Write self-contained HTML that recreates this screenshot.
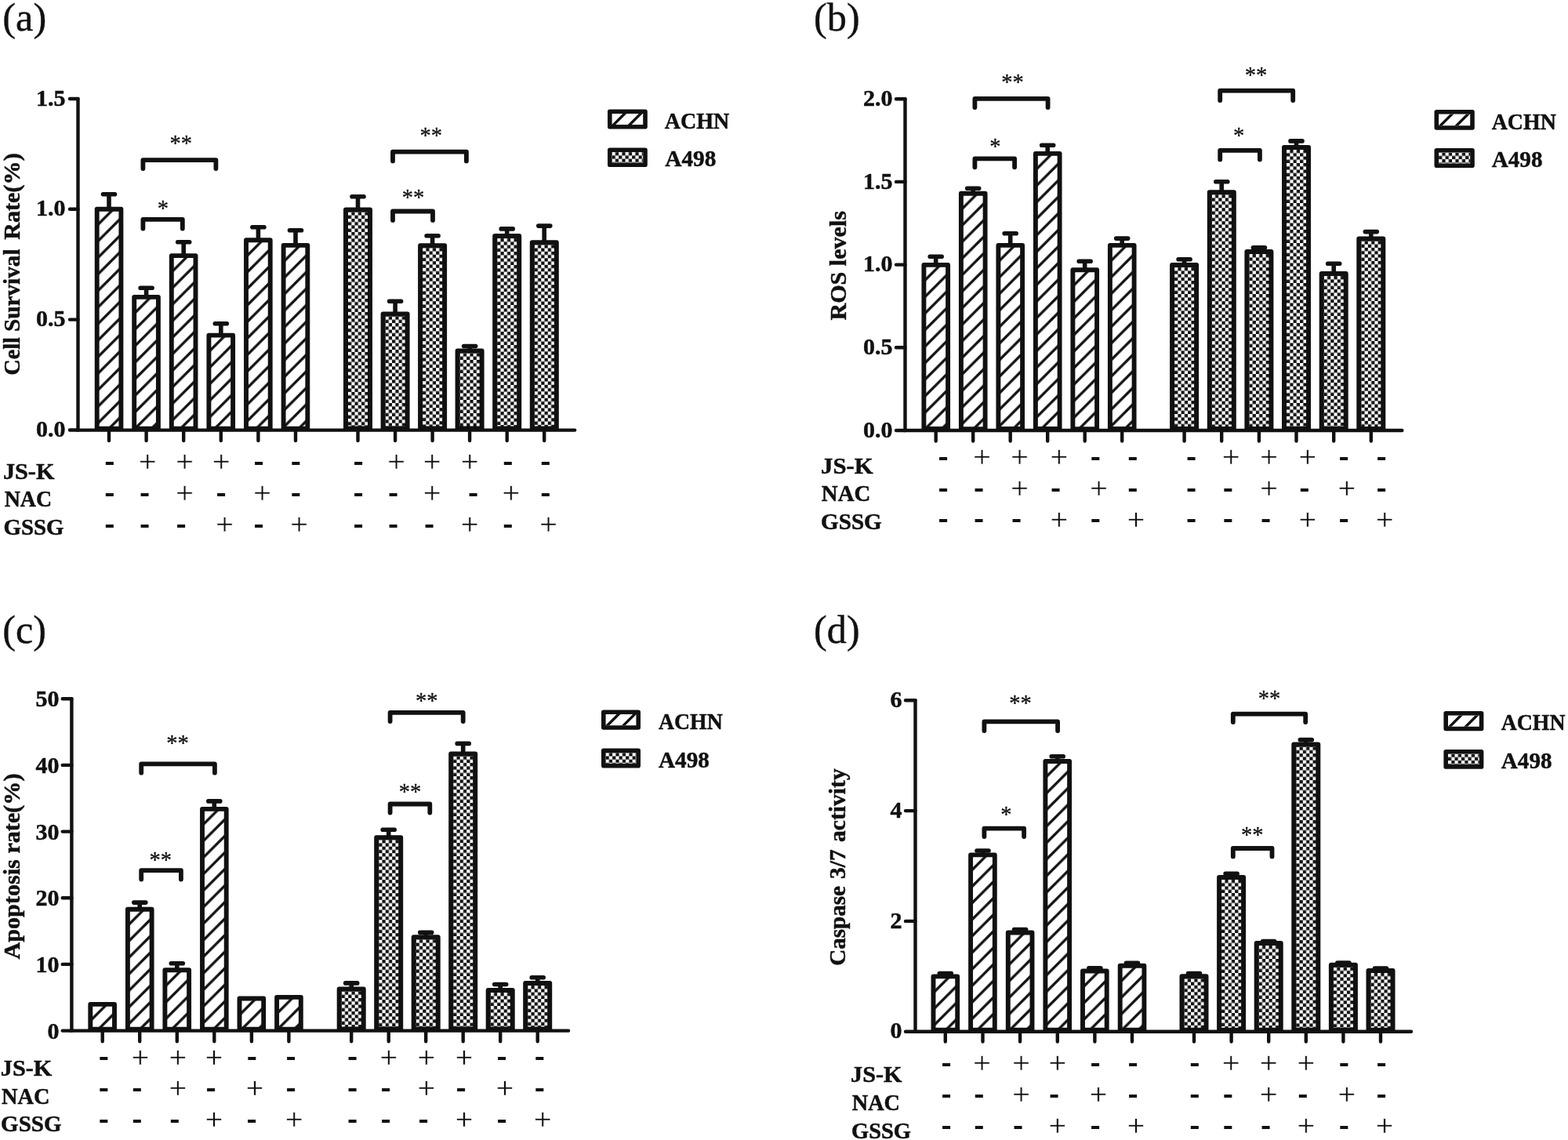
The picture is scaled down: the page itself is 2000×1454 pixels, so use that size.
<!DOCTYPE html>
<html><head><meta charset="utf-8"><title>Figure</title>
<style>
html,body{margin:0;padding:0;background:#fff;}
body{width:2000px;height:1454px;overflow:hidden;}
svg{display:block;}
text{fill:#111111;}
</style></head>
<body>
<svg width="2000" height="1454" viewBox="0 0 2000 1454">
<defs>
<pattern id="hatch" patternUnits="userSpaceOnUse" width="21.0" height="21.0">
<rect width="21.0" height="21.0" fill="#fff"/>
<path d="M-2 23.0L23.0 -2M-12.5 12.5L12.5 -12.5M8.5 33.5L33.5 8.5" stroke="#111111" stroke-width="3.3" fill="none" transform="translate(0 0)"/>
</pattern>
<pattern id="chk" patternUnits="userSpaceOnUse" width="8.5" height="8.5">
<rect width="8.5" height="8.5" fill="#fff"/>
<rect width="4.25" height="4.25" fill="#111111"/>
<rect x="4.25" y="4.25" width="4.25" height="4.25" fill="#111111"/>
</pattern>
<pattern id="hatchL" patternUnits="userSpaceOnUse" width="21.0" height="21.0">
<rect width="21.0" height="21.0" fill="#fff"/>
<path d="M-2 23.0L23.0 -2" stroke="#111111" stroke-width="3.9" fill="none"/>
</pattern>
<pattern id="chkL" patternUnits="userSpaceOnUse" width="8.5" height="8.5">
<rect width="8.5" height="8.5" fill="#fff"/>
<rect width="4.25" height="4.25" fill="#111111"/>
<rect x="4.25" y="4.25" width="4.25" height="4.25" fill="#111111"/>
</pattern>
<pattern id="p1" patternUnits="userSpaceOnUse" x="126.60" y="269.70" width="21.1" height="21.1"><rect width="21.1" height="21.1" fill="#fff"/><path d="M-9.00 24.10L24.10 -9.00M12.10 24.10L24.10 12.10" stroke="#111111" stroke-width="3.3" fill="none"/></pattern>
<pattern id="p2" patternUnits="userSpaceOnUse" x="174.20" y="381.90" width="21.1" height="21.1"><rect width="21.1" height="21.1" fill="#fff"/><path d="M-9.00 24.10L24.10 -9.00M12.10 24.10L24.10 12.10" stroke="#111111" stroke-width="3.3" fill="none"/></pattern>
<pattern id="p3" patternUnits="userSpaceOnUse" x="221.80" y="329.10" width="21.1" height="21.1"><rect width="21.1" height="21.1" fill="#fff"/><path d="M-9.00 24.10L24.10 -9.00M12.10 24.10L24.10 12.10" stroke="#111111" stroke-width="3.3" fill="none"/></pattern>
<pattern id="p4" patternUnits="userSpaceOnUse" x="269.40" y="430.60" width="21.1" height="21.1"><rect width="21.1" height="21.1" fill="#fff"/><path d="M-9.00 24.10L24.10 -9.00M12.10 24.10L24.10 12.10" stroke="#111111" stroke-width="3.3" fill="none"/></pattern>
<pattern id="p5" patternUnits="userSpaceOnUse" x="317.00" y="309.30" width="21.1" height="21.1"><rect width="21.1" height="21.1" fill="#fff"/><path d="M-9.00 24.10L24.10 -9.00M12.10 24.10L24.10 12.10" stroke="#111111" stroke-width="3.3" fill="none"/></pattern>
<pattern id="p6" patternUnits="userSpaceOnUse" x="364.60" y="315.90" width="21.1" height="21.1"><rect width="21.1" height="21.1" fill="#fff"/><path d="M-9.00 24.10L24.10 -9.00M12.10 24.10L24.10 12.10" stroke="#111111" stroke-width="3.3" fill="none"/></pattern>
<pattern id="p7" patternUnits="userSpaceOnUse" x="444.00" y="270.40" width="8.5" height="8.5"><rect width="8.5" height="8.5" fill="#fff"/><rect x="4.25" width="4.25" height="4.25" fill="#111111"/><rect y="4.25" width="4.25" height="4.25" fill="#111111"/></pattern>
<pattern id="p8" patternUnits="userSpaceOnUse" x="491.55" y="403.60" width="8.5" height="8.5"><rect width="8.5" height="8.5" fill="#fff"/><rect x="4.25" width="4.25" height="4.25" fill="#111111"/><rect y="4.25" width="4.25" height="4.25" fill="#111111"/></pattern>
<pattern id="p9" patternUnits="userSpaceOnUse" x="539.10" y="316.20" width="8.5" height="8.5"><rect width="8.5" height="8.5" fill="#fff"/><rect x="4.25" width="4.25" height="4.25" fill="#111111"/><rect y="4.25" width="4.25" height="4.25" fill="#111111"/></pattern>
<pattern id="p10" patternUnits="userSpaceOnUse" x="586.65" y="450.50" width="8.5" height="8.5"><rect width="8.5" height="8.5" fill="#fff"/><rect x="4.25" width="4.25" height="4.25" fill="#111111"/><rect y="4.25" width="4.25" height="4.25" fill="#111111"/></pattern>
<pattern id="p11" patternUnits="userSpaceOnUse" x="634.20" y="304.10" width="8.5" height="8.5"><rect width="8.5" height="8.5" fill="#fff"/><rect x="4.25" width="4.25" height="4.25" fill="#111111"/><rect y="4.25" width="4.25" height="4.25" fill="#111111"/></pattern>
<pattern id="p12" patternUnits="userSpaceOnUse" x="681.75" y="312.30" width="8.5" height="8.5"><rect width="8.5" height="8.5" fill="#fff"/><rect x="4.25" width="4.25" height="4.25" fill="#111111"/><rect y="4.25" width="4.25" height="4.25" fill="#111111"/></pattern>
<clipPath id="k13"><rect x="780.6" y="145.1" width="39.6" height="13.8"/></clipPath>
<pattern id="c14" patternUnits="userSpaceOnUse" x="780.60" y="194.10" width="8.5" height="8.5"><rect width="8.5" height="8.5" fill="#fff"/><rect x="4.25" width="4.25" height="4.25" fill="#111111"/><rect y="4.25" width="4.25" height="4.25" fill="#111111"/></pattern>
<pattern id="p15" patternUnits="userSpaceOnUse" x="1181.30" y="340.90" width="21.1" height="21.1"><rect width="21.1" height="21.1" fill="#fff"/><path d="M-9.00 24.10L24.10 -9.00M12.10 24.10L24.10 12.10" stroke="#111111" stroke-width="3.3" fill="none"/></pattern>
<pattern id="p16" patternUnits="userSpaceOnUse" x="1228.80" y="249.65" width="21.1" height="21.1"><rect width="21.1" height="21.1" fill="#fff"/><path d="M-9.00 24.10L24.10 -9.00M12.10 24.10L24.10 12.10" stroke="#111111" stroke-width="3.3" fill="none"/></pattern>
<pattern id="p17" patternUnits="userSpaceOnUse" x="1276.30" y="315.90" width="21.1" height="21.1"><rect width="21.1" height="21.1" fill="#fff"/><path d="M-9.00 24.10L24.10 -9.00M12.10 24.10L24.10 12.10" stroke="#111111" stroke-width="3.3" fill="none"/></pattern>
<pattern id="p18" patternUnits="userSpaceOnUse" x="1323.80" y="198.90" width="21.1" height="21.1"><rect width="21.1" height="21.1" fill="#fff"/><path d="M-9.00 24.10L24.10 -9.00M12.10 24.10L24.10 12.10" stroke="#111111" stroke-width="3.3" fill="none"/></pattern>
<pattern id="p19" patternUnits="userSpaceOnUse" x="1371.30" y="347.15" width="21.1" height="21.1"><rect width="21.1" height="21.1" fill="#fff"/><path d="M-9.00 24.10L24.10 -9.00M12.10 24.10L24.10 12.10" stroke="#111111" stroke-width="3.3" fill="none"/></pattern>
<pattern id="p20" patternUnits="userSpaceOnUse" x="1418.80" y="315.90" width="21.1" height="21.1"><rect width="21.1" height="21.1" fill="#fff"/><path d="M-9.00 24.10L24.10 -9.00M12.10 24.10L24.10 12.10" stroke="#111111" stroke-width="3.3" fill="none"/></pattern>
<pattern id="p21" patternUnits="userSpaceOnUse" x="1498.10" y="341.10" width="8.5" height="8.5"><rect width="8.5" height="8.5" fill="#fff"/><rect x="4.25" width="4.25" height="4.25" fill="#111111"/><rect y="4.25" width="4.25" height="4.25" fill="#111111"/></pattern>
<pattern id="p22" patternUnits="userSpaceOnUse" x="1545.75" y="248.20" width="8.5" height="8.5"><rect width="8.5" height="8.5" fill="#fff"/><rect x="4.25" width="4.25" height="4.25" fill="#111111"/><rect y="4.25" width="4.25" height="4.25" fill="#111111"/></pattern>
<pattern id="p23" patternUnits="userSpaceOnUse" x="1593.40" y="324.10" width="8.5" height="8.5"><rect width="8.5" height="8.5" fill="#fff"/><rect x="4.25" width="4.25" height="4.25" fill="#111111"/><rect y="4.25" width="4.25" height="4.25" fill="#111111"/></pattern>
<pattern id="p24" patternUnits="userSpaceOnUse" x="1641.05" y="191.00" width="8.5" height="8.5"><rect width="8.5" height="8.5" fill="#fff"/><rect x="4.25" width="4.25" height="4.25" fill="#111111"/><rect y="4.25" width="4.25" height="4.25" fill="#111111"/></pattern>
<pattern id="p25" patternUnits="userSpaceOnUse" x="1688.70" y="352.10" width="8.5" height="8.5"><rect width="8.5" height="8.5" fill="#fff"/><rect x="4.25" width="4.25" height="4.25" fill="#111111"/><rect y="4.25" width="4.25" height="4.25" fill="#111111"/></pattern>
<pattern id="p26" patternUnits="userSpaceOnUse" x="1736.35" y="307.40" width="8.5" height="8.5"><rect width="8.5" height="8.5" fill="#fff"/><rect x="4.25" width="4.25" height="4.25" fill="#111111"/><rect y="4.25" width="4.25" height="4.25" fill="#111111"/></pattern>
<clipPath id="k27"><rect x="1835.1" y="145.6" width="40.1" height="14.6"/></clipPath>
<pattern id="c28" patternUnits="userSpaceOnUse" x="1835.10" y="194.60" width="8.5" height="8.5"><rect width="8.5" height="8.5" fill="#fff"/><rect x="4.25" width="4.25" height="4.25" fill="#111111"/><rect y="4.25" width="4.25" height="4.25" fill="#111111"/></pattern>
<pattern id="p29" patternUnits="userSpaceOnUse" x="118.30" y="1283.80" width="21.1" height="21.1"><rect width="21.1" height="21.1" fill="#fff"/><path d="M-9.00 24.10L24.10 -9.00M12.10 24.10L24.10 12.10" stroke="#111111" stroke-width="3.3" fill="none"/></pattern>
<pattern id="p30" patternUnits="userSpaceOnUse" x="165.85" y="1162.60" width="21.1" height="21.1"><rect width="21.1" height="21.1" fill="#fff"/><path d="M-9.00 24.10L24.10 -9.00M12.10 24.10L24.10 12.10" stroke="#111111" stroke-width="3.3" fill="none"/></pattern>
<pattern id="p31" patternUnits="userSpaceOnUse" x="213.40" y="1240.20" width="21.1" height="21.1"><rect width="21.1" height="21.1" fill="#fff"/><path d="M-9.00 24.10L24.10 -9.00M12.10 24.10L24.10 12.10" stroke="#111111" stroke-width="3.3" fill="none"/></pattern>
<pattern id="p32" patternUnits="userSpaceOnUse" x="260.95" y="1034.80" width="21.1" height="21.1"><rect width="21.1" height="21.1" fill="#fff"/><path d="M-9.00 24.10L24.10 -9.00M12.10 24.10L24.10 12.10" stroke="#111111" stroke-width="3.3" fill="none"/></pattern>
<pattern id="p33" patternUnits="userSpaceOnUse" x="308.50" y="1276.40" width="21.1" height="21.1"><rect width="21.1" height="21.1" fill="#fff"/><path d="M-9.00 24.10L24.10 -9.00M12.10 24.10L24.10 12.10" stroke="#111111" stroke-width="3.3" fill="none"/></pattern>
<pattern id="p34" patternUnits="userSpaceOnUse" x="356.05" y="1274.80" width="21.1" height="21.1"><rect width="21.1" height="21.1" fill="#fff"/><path d="M-9.00 24.10L24.10 -9.00M12.10 24.10L24.10 12.10" stroke="#111111" stroke-width="3.3" fill="none"/></pattern>
<pattern id="p35" patternUnits="userSpaceOnUse" x="435.70" y="1264.50" width="8.5" height="8.5"><rect width="8.5" height="8.5" fill="#fff"/><rect x="4.25" width="4.25" height="4.25" fill="#111111"/><rect y="4.25" width="4.25" height="4.25" fill="#111111"/></pattern>
<pattern id="p36" patternUnits="userSpaceOnUse" x="483.20" y="1071.20" width="8.5" height="8.5"><rect width="8.5" height="8.5" fill="#fff"/><rect x="4.25" width="4.25" height="4.25" fill="#111111"/><rect y="4.25" width="4.25" height="4.25" fill="#111111"/></pattern>
<pattern id="p37" patternUnits="userSpaceOnUse" x="530.70" y="1198.30" width="8.5" height="8.5"><rect width="8.5" height="8.5" fill="#fff"/><rect x="4.25" width="4.25" height="4.25" fill="#111111"/><rect y="4.25" width="4.25" height="4.25" fill="#111111"/></pattern>
<pattern id="p38" patternUnits="userSpaceOnUse" x="578.20" y="964.60" width="8.5" height="8.5"><rect width="8.5" height="8.5" fill="#fff"/><rect x="4.25" width="4.25" height="4.25" fill="#111111"/><rect y="4.25" width="4.25" height="4.25" fill="#111111"/></pattern>
<pattern id="p39" patternUnits="userSpaceOnUse" x="625.70" y="1266.10" width="8.5" height="8.5"><rect width="8.5" height="8.5" fill="#fff"/><rect x="4.25" width="4.25" height="4.25" fill="#111111"/><rect y="4.25" width="4.25" height="4.25" fill="#111111"/></pattern>
<pattern id="p40" patternUnits="userSpaceOnUse" x="673.20" y="1257.10" width="8.5" height="8.5"><rect width="8.5" height="8.5" fill="#fff"/><rect x="4.25" width="4.25" height="4.25" fill="#111111"/><rect y="4.25" width="4.25" height="4.25" fill="#111111"/></pattern>
<clipPath id="k41"><rect x="772.6" y="911.1" width="38.8" height="14.1"/></clipPath>
<pattern id="c42" patternUnits="userSpaceOnUse" x="772.60" y="960.20" width="8.5" height="8.5"><rect width="8.5" height="8.5" fill="#fff"/><rect x="4.25" width="4.25" height="4.25" fill="#111111"/><rect y="4.25" width="4.25" height="4.25" fill="#111111"/></pattern>
<pattern id="p43" patternUnits="userSpaceOnUse" x="1193.40" y="1248.30" width="21.1" height="21.1"><rect width="21.1" height="21.1" fill="#fff"/><path d="M-9.00 24.10L24.10 -9.00M12.10 24.10L24.10 12.10" stroke="#111111" stroke-width="3.3" fill="none"/></pattern>
<pattern id="p44" patternUnits="userSpaceOnUse" x="1241.05" y="1093.30" width="21.1" height="21.1"><rect width="21.1" height="21.1" fill="#fff"/><path d="M-9.00 24.10L24.10 -9.00M12.10 24.10L24.10 12.10" stroke="#111111" stroke-width="3.3" fill="none"/></pattern>
<pattern id="p45" patternUnits="userSpaceOnUse" x="1288.70" y="1192.50" width="21.1" height="21.1"><rect width="21.1" height="21.1" fill="#fff"/><path d="M-9.00 24.10L24.10 -9.00M12.10 24.10L24.10 12.10" stroke="#111111" stroke-width="3.3" fill="none"/></pattern>
<pattern id="p46" patternUnits="userSpaceOnUse" x="1336.35" y="973.90" width="21.1" height="21.1"><rect width="21.1" height="21.1" fill="#fff"/><path d="M-9.00 24.10L24.10 -9.00M12.10 24.10L24.10 12.10" stroke="#111111" stroke-width="3.3" fill="none"/></pattern>
<pattern id="p47" patternUnits="userSpaceOnUse" x="1384.00" y="1241.50" width="21.1" height="21.1"><rect width="21.1" height="21.1" fill="#fff"/><path d="M-9.00 24.10L24.10 -9.00M12.10 24.10L24.10 12.10" stroke="#111111" stroke-width="3.3" fill="none"/></pattern>
<pattern id="p48" patternUnits="userSpaceOnUse" x="1431.65" y="1234.70" width="21.1" height="21.1"><rect width="21.1" height="21.1" fill="#fff"/><path d="M-9.00 24.10L24.10 -9.00M12.10 24.10L24.10 12.10" stroke="#111111" stroke-width="3.3" fill="none"/></pattern>
<pattern id="p49" patternUnits="userSpaceOnUse" x="1510.50" y="1248.30" width="8.5" height="8.5"><rect width="8.5" height="8.5" fill="#fff"/><rect x="4.25" width="4.25" height="4.25" fill="#111111"/><rect y="4.25" width="4.25" height="4.25" fill="#111111"/></pattern>
<pattern id="p50" patternUnits="userSpaceOnUse" x="1558.10" y="1122.00" width="8.5" height="8.5"><rect width="8.5" height="8.5" fill="#fff"/><rect x="4.25" width="4.25" height="4.25" fill="#111111"/><rect y="4.25" width="4.25" height="4.25" fill="#111111"/></pattern>
<pattern id="p51" patternUnits="userSpaceOnUse" x="1605.70" y="1206.00" width="8.5" height="8.5"><rect width="8.5" height="8.5" fill="#fff"/><rect x="4.25" width="4.25" height="4.25" fill="#111111"/><rect y="4.25" width="4.25" height="4.25" fill="#111111"/></pattern>
<pattern id="p52" patternUnits="userSpaceOnUse" x="1653.30" y="952.60" width="8.5" height="8.5"><rect width="8.5" height="8.5" fill="#fff"/><rect x="4.25" width="4.25" height="4.25" fill="#111111"/><rect y="4.25" width="4.25" height="4.25" fill="#111111"/></pattern>
<pattern id="p53" patternUnits="userSpaceOnUse" x="1700.90" y="1233.80" width="8.5" height="8.5"><rect width="8.5" height="8.5" fill="#fff"/><rect x="4.25" width="4.25" height="4.25" fill="#111111"/><rect y="4.25" width="4.25" height="4.25" fill="#111111"/></pattern>
<pattern id="p54" patternUnits="userSpaceOnUse" x="1748.50" y="1240.90" width="8.5" height="8.5"><rect width="8.5" height="8.5" fill="#fff"/><rect x="4.25" width="4.25" height="4.25" fill="#111111"/><rect y="4.25" width="4.25" height="4.25" fill="#111111"/></pattern>
<clipPath id="k55"><rect x="1847.0" y="912.6" width="39.8" height="14.1"/></clipPath>
<pattern id="c56" patternUnits="userSpaceOnUse" x="1847.00" y="961.50" width="8.5" height="8.5"><rect width="8.5" height="8.5" fill="#fff"/><rect x="4.25" width="4.25" height="4.25" fill="#111111"/><rect y="4.25" width="4.25" height="4.25" fill="#111111"/></pattern>
</defs>
<rect width="2000" height="1454" fill="#fff"/>
<path d="M139.0 266.8V247.7M131.5 247.7H146.5" stroke="#111111" stroke-width="5.6" stroke-linecap="round" fill="none"/>
<rect x="123.7" y="266.8" width="30.7" height="279.9" fill="url(#p1)" stroke="#111111" stroke-width="5.9" stroke-linejoin="round"/>
<path d="M186.6 378.9V367.3M179.1 367.3H194.1" stroke="#111111" stroke-width="5.6" stroke-linecap="round" fill="none"/>
<rect x="171.2" y="378.9" width="30.7" height="167.7" fill="url(#p2)" stroke="#111111" stroke-width="5.9" stroke-linejoin="round"/>
<path d="M234.2 326.1V308.7M226.7 308.7H241.7" stroke="#111111" stroke-width="5.6" stroke-linecap="round" fill="none"/>
<rect x="218.8" y="326.1" width="30.7" height="220.5" fill="url(#p3)" stroke="#111111" stroke-width="5.9" stroke-linejoin="round"/>
<path d="M281.8 427.6V412.7M274.3 412.7H289.3" stroke="#111111" stroke-width="5.6" stroke-linecap="round" fill="none"/>
<rect x="266.4" y="427.6" width="30.7" height="119.0" fill="url(#p4)" stroke="#111111" stroke-width="5.9" stroke-linejoin="round"/>
<path d="M329.4 306.3V289.7M321.9 289.7H336.9" stroke="#111111" stroke-width="5.6" stroke-linecap="round" fill="none"/>
<rect x="314.0" y="306.3" width="30.7" height="240.3" fill="url(#p5)" stroke="#111111" stroke-width="5.9" stroke-linejoin="round"/>
<path d="M377.0 312.9V293.8M369.5 293.8H384.5" stroke="#111111" stroke-width="5.6" stroke-linecap="round" fill="none"/>
<rect x="361.6" y="312.9" width="30.7" height="233.7" fill="url(#p6)" stroke="#111111" stroke-width="5.9" stroke-linejoin="round"/>
<path d="M456.5 267.4V250.7M449.0 250.7H464.0" stroke="#111111" stroke-width="5.6" stroke-linecap="round" fill="none"/>
<rect x="441.0" y="267.4" width="31.0" height="279.2" fill="url(#p7)" stroke="#111111" stroke-width="6.0" stroke-linejoin="round"/>
<path d="M504.1 400.6V384.3M496.6 384.3H511.6" stroke="#111111" stroke-width="5.6" stroke-linecap="round" fill="none"/>
<rect x="488.6" y="400.6" width="31.0" height="146.0" fill="url(#p8)" stroke="#111111" stroke-width="6.0" stroke-linejoin="round"/>
<path d="M551.6 313.2V300.7M544.1 300.7H559.1" stroke="#111111" stroke-width="5.6" stroke-linecap="round" fill="none"/>
<rect x="536.1" y="313.2" width="31.0" height="233.4" fill="url(#p9)" stroke="#111111" stroke-width="6.0" stroke-linejoin="round"/>
<path d="M599.1 447.5V441.5M591.6 441.5H606.6" stroke="#111111" stroke-width="5.6" stroke-linecap="round" fill="none"/>
<rect x="583.6" y="447.5" width="31.0" height="99.1" fill="url(#p10)" stroke="#111111" stroke-width="6.0" stroke-linejoin="round"/>
<path d="M646.7 301.1V291.9M639.2 291.9H654.2" stroke="#111111" stroke-width="5.6" stroke-linecap="round" fill="none"/>
<rect x="631.2" y="301.1" width="31.0" height="245.5" fill="url(#p11)" stroke="#111111" stroke-width="6.0" stroke-linejoin="round"/>
<path d="M694.2 309.3V288.1M686.8 288.1H701.8" stroke="#111111" stroke-width="5.6" stroke-linecap="round" fill="none"/>
<rect x="678.8" y="309.3" width="31.0" height="237.3" fill="url(#p12)" stroke="#111111" stroke-width="6.0" stroke-linejoin="round"/>
<path d="M99.5 126.0V548.6H733.2" stroke="#111111" stroke-width="4.4" fill="none" stroke-linecap="round"/>
<path d="M89.0 126.0H99.5M89.0 266.8H99.5M89.0 407.6H99.5M89.0 548.5H99.5" stroke="#111111" stroke-width="4.4" fill="none" stroke-linecap="round"/>
<path d="M139.0 548.6V562.0M186.6 548.6V562.0M234.2 548.6V562.0M281.8 548.6V562.0M329.4 548.6V562.0M377.0 548.6V562.0M456.5 548.6V562.0M504.1 548.6V562.0M551.6 548.6V562.0M599.1 548.6V562.0M646.7 548.6V562.0M694.2 548.6V562.0" stroke="#111111" stroke-width="4.4" fill="none" stroke-linecap="round"/>
<text x="83.6" y="134.6" font-size="30" font-family='"Liberation Serif", "Times New Roman", serif' font-weight="bold" text-anchor="end" stroke="#111111" stroke-width="0.5">1.5</text>
<text x="83.6" y="275.4" font-size="30" font-family='"Liberation Serif", "Times New Roman", serif' font-weight="bold" text-anchor="end" stroke="#111111" stroke-width="0.5">1.0</text>
<text x="83.6" y="416.2" font-size="30" font-family='"Liberation Serif", "Times New Roman", serif' font-weight="bold" text-anchor="end" stroke="#111111" stroke-width="0.5">0.5</text>
<text x="83.6" y="557.1" font-size="30" font-family='"Liberation Serif", "Times New Roman", serif' font-weight="bold" text-anchor="end" stroke="#111111" stroke-width="0.5">0.0</text>
<path d="M182.4 215.1V204.2H275.4V215.1" stroke="#111111" stroke-width="5.8" stroke-linecap="round" stroke-linejoin="round" fill="none"/>
<text x="230.8" y="192.1" font-size="28.5" font-family='"Liberation Serif", "Times New Roman", serif' text-anchor="middle" stroke="#111111" stroke-width="0.3">**</text>
<path d="M182.4 291.6V279.9H232.8V291.6" stroke="#111111" stroke-width="5.8" stroke-linecap="round" stroke-linejoin="round" fill="none"/>
<text x="207.9" y="274.8" font-size="28.5" font-family='"Liberation Serif", "Times New Roman", serif' text-anchor="middle" stroke="#111111" stroke-width="0.3">*</text>
<path d="M501.0 205.4V193.6H594.9V205.4" stroke="#111111" stroke-width="5.8" stroke-linecap="round" stroke-linejoin="round" fill="none"/>
<text x="549.8" y="181.9" font-size="28.5" font-family='"Liberation Serif", "Times New Roman", serif' text-anchor="middle" stroke="#111111" stroke-width="0.3">**</text>
<path d="M501.0 280.9V269.5H552.0V280.9" stroke="#111111" stroke-width="5.8" stroke-linecap="round" stroke-linejoin="round" fill="none"/>
<text x="527.1" y="260.6" font-size="28.5" font-family='"Liberation Serif", "Times New Roman", serif' text-anchor="middle" stroke="#111111" stroke-width="0.3">**</text>
<rect x="780.6" y="145.1" width="39.6" height="13.8" fill="#fff"/>
<path d="M779.8 161.9L799.6 142.1M800.3 161.9L820.1 142.1M820.8 161.9L840.6 142.1" stroke="#111111" stroke-width="3.4" clip-path="url(#k13)" fill="none"/>
<rect x="777.8" y="142.3" width="45.2" height="19.4" fill="none" stroke="#111111" stroke-width="5.6" stroke-linejoin="round"/>
<text x="847.7" y="164.0" font-size="30" font-family='"Liberation Serif", "Times New Roman", serif' font-weight="bold" textLength="82.6" lengthAdjust="spacingAndGlyphs" stroke="#111111" stroke-width="0.5">ACHN</text>
<rect x="780.6" y="194.1" width="39.6" height="13.3" fill="url(#c14)"/>
<rect x="777.8" y="191.3" width="45.2" height="18.9" fill="none" stroke="#111111" stroke-width="5.6" stroke-linejoin="round"/>
<text x="848.2" y="211.5" font-size="30" font-family='"Liberation Serif", "Times New Roman", serif' font-weight="bold" textLength="65.3" lengthAdjust="spacingAndGlyphs" stroke="#111111" stroke-width="0.5">A498</text>
<text x="3.9" y="611.4" font-size="30" font-family='"Liberation Serif", "Times New Roman", serif' font-weight="bold" textLength="65.6" lengthAdjust="spacingAndGlyphs" stroke="#111111" stroke-width="0.5">JS-K</text>
<text x="5.7" y="646.0" font-size="30" font-family='"Liberation Serif", "Times New Roman", serif' font-weight="bold" textLength="60.4" lengthAdjust="spacingAndGlyphs" stroke="#111111" stroke-width="0.5">NAC</text>
<text x="4.5" y="681.7" font-size="30" font-family='"Liberation Serif", "Times New Roman", serif' font-weight="bold" textLength="77.1" lengthAdjust="spacingAndGlyphs" stroke="#111111" stroke-width="0.5">GSSG</text>
<text x="133.3" y="599.7" font-size="33" font-family='"Liberation Sans", Arial, sans-serif' font-weight="bold" textLength="13.2" lengthAdjust="spacingAndGlyphs">-</text>
<text x="176.7" y="601.4" font-size="36" font-family='"Liberation Sans", Arial, sans-serif' textLength="23.1" lengthAdjust="spacingAndGlyphs" stroke="#fff" stroke-width="0.6">+</text>
<text x="223.9" y="601.4" font-size="36" font-family='"Liberation Sans", Arial, sans-serif' textLength="23.1" lengthAdjust="spacingAndGlyphs" stroke="#fff" stroke-width="0.6">+</text>
<text x="270.7" y="601.4" font-size="36" font-family='"Liberation Sans", Arial, sans-serif' textLength="23.1" lengthAdjust="spacingAndGlyphs" stroke="#fff" stroke-width="0.6">+</text>
<text x="323.6" y="599.7" font-size="33" font-family='"Liberation Sans", Arial, sans-serif' font-weight="bold" textLength="13.2" lengthAdjust="spacingAndGlyphs">-</text>
<text x="370.7" y="599.7" font-size="33" font-family='"Liberation Sans", Arial, sans-serif' font-weight="bold" textLength="13.2" lengthAdjust="spacingAndGlyphs">-</text>
<text x="450.4" y="599.7" font-size="33" font-family='"Liberation Sans", Arial, sans-serif' font-weight="bold" textLength="13.2" lengthAdjust="spacingAndGlyphs">-</text>
<text x="493.9" y="601.4" font-size="36" font-family='"Liberation Sans", Arial, sans-serif' textLength="23.1" lengthAdjust="spacingAndGlyphs" stroke="#fff" stroke-width="0.6">+</text>
<text x="539.8" y="601.4" font-size="36" font-family='"Liberation Sans", Arial, sans-serif' textLength="23.1" lengthAdjust="spacingAndGlyphs" stroke="#fff" stroke-width="0.6">+</text>
<text x="587.8" y="601.4" font-size="36" font-family='"Liberation Sans", Arial, sans-serif' textLength="23.1" lengthAdjust="spacingAndGlyphs" stroke="#fff" stroke-width="0.6">+</text>
<text x="641.2" y="599.7" font-size="33" font-family='"Liberation Sans", Arial, sans-serif' font-weight="bold" textLength="13.2" lengthAdjust="spacingAndGlyphs">-</text>
<text x="689.3" y="599.7" font-size="33" font-family='"Liberation Sans", Arial, sans-serif' font-weight="bold" textLength="13.2" lengthAdjust="spacingAndGlyphs">-</text>
<text x="133.3" y="639.8" font-size="33" font-family='"Liberation Sans", Arial, sans-serif' font-weight="bold" textLength="13.2" lengthAdjust="spacingAndGlyphs">-</text>
<text x="177.9" y="639.8" font-size="33" font-family='"Liberation Sans", Arial, sans-serif' font-weight="bold" textLength="13.2" lengthAdjust="spacingAndGlyphs">-</text>
<text x="223.9" y="641.2" font-size="36" font-family='"Liberation Sans", Arial, sans-serif' textLength="23.1" lengthAdjust="spacingAndGlyphs" stroke="#fff" stroke-width="0.6">+</text>
<text x="275.4" y="639.8" font-size="33" font-family='"Liberation Sans", Arial, sans-serif' font-weight="bold" textLength="13.2" lengthAdjust="spacingAndGlyphs">-</text>
<text x="322.9" y="641.2" font-size="36" font-family='"Liberation Sans", Arial, sans-serif' textLength="23.1" lengthAdjust="spacingAndGlyphs" stroke="#fff" stroke-width="0.6">+</text>
<text x="370.7" y="639.8" font-size="33" font-family='"Liberation Sans", Arial, sans-serif' font-weight="bold" textLength="13.2" lengthAdjust="spacingAndGlyphs">-</text>
<text x="450.4" y="639.8" font-size="33" font-family='"Liberation Sans", Arial, sans-serif' font-weight="bold" textLength="13.2" lengthAdjust="spacingAndGlyphs">-</text>
<text x="495.0" y="639.8" font-size="33" font-family='"Liberation Sans", Arial, sans-serif' font-weight="bold" textLength="13.2" lengthAdjust="spacingAndGlyphs">-</text>
<text x="539.8" y="641.2" font-size="36" font-family='"Liberation Sans", Arial, sans-serif' textLength="23.1" lengthAdjust="spacingAndGlyphs" stroke="#fff" stroke-width="0.6">+</text>
<text x="597.0" y="639.8" font-size="33" font-family='"Liberation Sans", Arial, sans-serif' font-weight="bold" textLength="13.2" lengthAdjust="spacingAndGlyphs">-</text>
<text x="640.3" y="641.2" font-size="36" font-family='"Liberation Sans", Arial, sans-serif' textLength="23.1" lengthAdjust="spacingAndGlyphs" stroke="#fff" stroke-width="0.6">+</text>
<text x="689.3" y="639.8" font-size="33" font-family='"Liberation Sans", Arial, sans-serif' font-weight="bold" textLength="13.2" lengthAdjust="spacingAndGlyphs">-</text>
<text x="133.3" y="679.6" font-size="33" font-family='"Liberation Sans", Arial, sans-serif' font-weight="bold" textLength="13.2" lengthAdjust="spacingAndGlyphs">-</text>
<text x="177.9" y="679.6" font-size="33" font-family='"Liberation Sans", Arial, sans-serif' font-weight="bold" textLength="13.2" lengthAdjust="spacingAndGlyphs">-</text>
<text x="224.4" y="679.6" font-size="33" font-family='"Liberation Sans", Arial, sans-serif' font-weight="bold" textLength="13.2" lengthAdjust="spacingAndGlyphs">-</text>
<text x="274.9" y="680.8" font-size="36" font-family='"Liberation Sans", Arial, sans-serif' textLength="23.1" lengthAdjust="spacingAndGlyphs" stroke="#fff" stroke-width="0.6">+</text>
<text x="323.6" y="679.6" font-size="33" font-family='"Liberation Sans", Arial, sans-serif' font-weight="bold" textLength="13.2" lengthAdjust="spacingAndGlyphs">-</text>
<text x="369.9" y="680.8" font-size="36" font-family='"Liberation Sans", Arial, sans-serif' textLength="23.1" lengthAdjust="spacingAndGlyphs" stroke="#fff" stroke-width="0.6">+</text>
<text x="450.4" y="679.6" font-size="33" font-family='"Liberation Sans", Arial, sans-serif' font-weight="bold" textLength="13.2" lengthAdjust="spacingAndGlyphs">-</text>
<text x="495.0" y="679.6" font-size="33" font-family='"Liberation Sans", Arial, sans-serif' font-weight="bold" textLength="13.2" lengthAdjust="spacingAndGlyphs">-</text>
<text x="540.9" y="679.6" font-size="33" font-family='"Liberation Sans", Arial, sans-serif' font-weight="bold" textLength="13.2" lengthAdjust="spacingAndGlyphs">-</text>
<text x="587.8" y="680.8" font-size="36" font-family='"Liberation Sans", Arial, sans-serif' textLength="23.1" lengthAdjust="spacingAndGlyphs" stroke="#fff" stroke-width="0.6">+</text>
<text x="641.2" y="679.6" font-size="33" font-family='"Liberation Sans", Arial, sans-serif' font-weight="bold" textLength="13.2" lengthAdjust="spacingAndGlyphs">-</text>
<text x="688.0" y="680.8" font-size="36" font-family='"Liberation Sans", Arial, sans-serif' textLength="23.1" lengthAdjust="spacingAndGlyphs" stroke="#fff" stroke-width="0.6">+</text>
<text transform="translate(24.5 477.4) rotate(-90)" x="-1.35" y="0" font-size="30" font-family='"Liberation Serif", "Times New Roman", serif' font-weight="bold" textLength="48.6" lengthAdjust="spacingAndGlyphs" stroke="#111111" stroke-width="0.5">Cell</text>
<text transform="translate(24.5 421.4) rotate(-90)" x="-1.58" y="0" font-size="30" font-family='"Liberation Serif", "Times New Roman", serif' font-weight="bold" textLength="105.5" lengthAdjust="spacingAndGlyphs" stroke="#111111" stroke-width="0.5">Survival</text>
<text transform="translate(24.5 305.3) rotate(-90)" x="-0.54" y="0" font-size="30" font-family='"Liberation Serif", "Times New Roman", serif' font-weight="bold" textLength="110.5" lengthAdjust="spacingAndGlyphs" stroke="#111111" stroke-width="0.5">Rate(%)</text>
<text x="3.2" y="38.5" font-size="50" font-family='"Liberation Serif", "Times New Roman", serif' textLength="56.0" lengthAdjust="spacingAndGlyphs" stroke="#111111" stroke-width="0.4">(a)</text>
<path d="M1193.7 337.9V327.3M1186.2 327.3H1201.2" stroke="#111111" stroke-width="5.6" stroke-linecap="round" fill="none"/>
<rect x="1178.4" y="337.9" width="30.7" height="209.1" fill="url(#p15)" stroke="#111111" stroke-width="5.9" stroke-linejoin="round"/>
<path d="M1241.2 246.7V240.3M1233.7 240.3H1248.7" stroke="#111111" stroke-width="5.6" stroke-linecap="round" fill="none"/>
<rect x="1225.9" y="246.7" width="30.7" height="300.4" fill="url(#p16)" stroke="#111111" stroke-width="5.9" stroke-linejoin="round"/>
<path d="M1288.7 312.9V297.8M1281.2 297.8H1296.2" stroke="#111111" stroke-width="5.6" stroke-linecap="round" fill="none"/>
<rect x="1273.4" y="312.9" width="30.7" height="234.1" fill="url(#p17)" stroke="#111111" stroke-width="5.9" stroke-linejoin="round"/>
<path d="M1336.2 195.9V185.3M1328.7 185.3H1343.7" stroke="#111111" stroke-width="5.6" stroke-linecap="round" fill="none"/>
<rect x="1320.9" y="195.9" width="30.7" height="351.1" fill="url(#p18)" stroke="#111111" stroke-width="5.9" stroke-linejoin="round"/>
<path d="M1383.7 344.2V333.3M1376.2 333.3H1391.2" stroke="#111111" stroke-width="5.6" stroke-linecap="round" fill="none"/>
<rect x="1368.4" y="344.2" width="30.7" height="202.9" fill="url(#p19)" stroke="#111111" stroke-width="5.9" stroke-linejoin="round"/>
<path d="M1431.2 312.9V304.1M1423.7 304.1H1438.7" stroke="#111111" stroke-width="5.6" stroke-linecap="round" fill="none"/>
<rect x="1415.9" y="312.9" width="30.7" height="234.1" fill="url(#p20)" stroke="#111111" stroke-width="5.9" stroke-linejoin="round"/>
<path d="M1510.6 338.1V330.8M1503.1 330.8H1518.1" stroke="#111111" stroke-width="5.6" stroke-linecap="round" fill="none"/>
<rect x="1495.1" y="338.1" width="31.0" height="208.9" fill="url(#p21)" stroke="#111111" stroke-width="6.0" stroke-linejoin="round"/>
<path d="M1558.2 245.2V231.8M1550.8 231.8H1565.8" stroke="#111111" stroke-width="5.6" stroke-linecap="round" fill="none"/>
<rect x="1542.8" y="245.2" width="31.0" height="301.8" fill="url(#p22)" stroke="#111111" stroke-width="6.0" stroke-linejoin="round"/>
<path d="M1605.9 321.1V315.9M1598.4 315.9H1613.4" stroke="#111111" stroke-width="5.6" stroke-linecap="round" fill="none"/>
<rect x="1590.4" y="321.1" width="31.0" height="225.9" fill="url(#p23)" stroke="#111111" stroke-width="6.0" stroke-linejoin="round"/>
<path d="M1653.5 188.0V179.9M1646.0 179.9H1661.0" stroke="#111111" stroke-width="5.6" stroke-linecap="round" fill="none"/>
<rect x="1638.0" y="188.0" width="31.0" height="359.0" fill="url(#p24)" stroke="#111111" stroke-width="6.0" stroke-linejoin="round"/>
<path d="M1701.2 349.1V336.3M1693.7 336.3H1708.7" stroke="#111111" stroke-width="5.6" stroke-linecap="round" fill="none"/>
<rect x="1685.7" y="349.1" width="31.0" height="197.9" fill="url(#p25)" stroke="#111111" stroke-width="6.0" stroke-linejoin="round"/>
<path d="M1748.8 304.4V295.6M1741.3 295.6H1756.3" stroke="#111111" stroke-width="5.6" stroke-linecap="round" fill="none"/>
<rect x="1733.3" y="304.4" width="31.0" height="242.6" fill="url(#p26)" stroke="#111111" stroke-width="6.0" stroke-linejoin="round"/>
<path d="M1154.5 126.2V549.0H1788.3" stroke="#111111" stroke-width="4.4" fill="none" stroke-linecap="round"/>
<path d="M1143.0 126.2H1154.5M1143.0 231.9H1154.5M1143.0 337.6H1154.5M1143.0 443.3H1154.5M1143.0 549.0H1154.5" stroke="#111111" stroke-width="4.4" fill="none" stroke-linecap="round"/>
<path d="M1193.7 549.0V562.5M1241.2 549.0V562.5M1288.7 549.0V562.5M1336.2 549.0V562.5M1383.7 549.0V562.5M1431.2 549.0V562.5M1510.6 549.0V562.5M1558.2 549.0V562.5M1605.9 549.0V562.5M1653.5 549.0V562.5M1701.2 549.0V562.5M1748.8 549.0V562.5" stroke="#111111" stroke-width="4.4" fill="none" stroke-linecap="round"/>
<text x="1138.5" y="134.8" font-size="30" font-family='"Liberation Serif", "Times New Roman", serif' font-weight="bold" text-anchor="end" stroke="#111111" stroke-width="0.5">2.0</text>
<text x="1138.5" y="240.5" font-size="30" font-family='"Liberation Serif", "Times New Roman", serif' font-weight="bold" text-anchor="end" stroke="#111111" stroke-width="0.5">1.5</text>
<text x="1138.5" y="346.2" font-size="30" font-family='"Liberation Serif", "Times New Roman", serif' font-weight="bold" text-anchor="end" stroke="#111111" stroke-width="0.5">1.0</text>
<text x="1138.5" y="451.9" font-size="30" font-family='"Liberation Serif", "Times New Roman", serif' font-weight="bold" text-anchor="end" stroke="#111111" stroke-width="0.5">0.5</text>
<text x="1138.5" y="557.6" font-size="30" font-family='"Liberation Serif", "Times New Roman", serif' font-weight="bold" text-anchor="end" stroke="#111111" stroke-width="0.5">0.0</text>
<path d="M1243.4 137.1V125.9H1336.6V137.1" stroke="#111111" stroke-width="5.8" stroke-linecap="round" stroke-linejoin="round" fill="none"/>
<text x="1291.4" y="114.0" font-size="28.5" font-family='"Liberation Serif", "Times New Roman", serif' text-anchor="middle" stroke="#111111" stroke-width="0.3">**</text>
<path d="M1243.4 213.3V202.4H1294.1V213.3" stroke="#111111" stroke-width="5.8" stroke-linecap="round" stroke-linejoin="round" fill="none"/>
<text x="1269.4" y="195.5" font-size="28.5" font-family='"Liberation Serif", "Times New Roman", serif' text-anchor="middle" stroke="#111111" stroke-width="0.3">*</text>
<path d="M1556.2 128.0V115.7H1649.2V128.0" stroke="#111111" stroke-width="5.8" stroke-linecap="round" stroke-linejoin="round" fill="none"/>
<text x="1602.1" y="104.8" font-size="28.5" font-family='"Liberation Serif", "Times New Roman", serif' text-anchor="middle" stroke="#111111" stroke-width="0.3">**</text>
<path d="M1556.2 203.4V191.9H1606.9V203.4" stroke="#111111" stroke-width="5.8" stroke-linecap="round" stroke-linejoin="round" fill="none"/>
<text x="1580.1" y="182.3" font-size="28.5" font-family='"Liberation Serif", "Times New Roman", serif' text-anchor="middle" stroke="#111111" stroke-width="0.3">*</text>
<rect x="1835.1" y="145.6" width="40.1" height="14.6" fill="#fff"/>
<path d="M1834.3 163.2L1854.9 142.6M1854.8 163.2L1875.4 142.6M1875.3 163.2L1895.9 142.6" stroke="#111111" stroke-width="3.4" clip-path="url(#k27)" fill="none"/>
<rect x="1832.3" y="142.8" width="45.7" height="20.2" fill="none" stroke="#111111" stroke-width="5.6" stroke-linejoin="round"/>
<text x="1902.7" y="164.8" font-size="30" font-family='"Liberation Serif", "Times New Roman", serif' font-weight="bold" textLength="82.1" lengthAdjust="spacingAndGlyphs" stroke="#111111" stroke-width="0.5">ACHN</text>
<rect x="1835.1" y="194.6" width="40.1" height="13.8" fill="url(#c28)"/>
<rect x="1832.3" y="191.8" width="45.7" height="19.4" fill="none" stroke="#111111" stroke-width="5.6" stroke-linejoin="round"/>
<text x="1902.7" y="212.5" font-size="30" font-family='"Liberation Serif", "Times New Roman", serif' font-weight="bold" textLength="64.8" lengthAdjust="spacingAndGlyphs" stroke="#111111" stroke-width="0.5">A498</text>
<text x="1047.0" y="603.5" font-size="30" font-family='"Liberation Serif", "Times New Roman", serif' font-weight="bold" textLength="66.7" lengthAdjust="spacingAndGlyphs" stroke="#111111" stroke-width="0.5">JS-K</text>
<text x="1047.8" y="638.8" font-size="30" font-family='"Liberation Serif", "Times New Roman", serif' font-weight="bold" textLength="62.6" lengthAdjust="spacingAndGlyphs" stroke="#111111" stroke-width="0.5">NAC</text>
<text x="1047.0" y="674.5" font-size="30" font-family='"Liberation Serif", "Times New Roman", serif' font-weight="bold" textLength="77.8" lengthAdjust="spacingAndGlyphs" stroke="#111111" stroke-width="0.5">GSSG</text>
<text x="1196.4" y="593.6" font-size="33" font-family='"Liberation Sans", Arial, sans-serif' font-weight="bold" textLength="13.2" lengthAdjust="spacingAndGlyphs">-</text>
<text x="1240.9" y="595.3" font-size="36" font-family='"Liberation Sans", Arial, sans-serif' textLength="23.1" lengthAdjust="spacingAndGlyphs" stroke="#fff" stroke-width="0.6">+</text>
<text x="1289.1" y="595.3" font-size="36" font-family='"Liberation Sans", Arial, sans-serif' textLength="23.1" lengthAdjust="spacingAndGlyphs" stroke="#fff" stroke-width="0.6">+</text>
<text x="1339.2" y="595.3" font-size="36" font-family='"Liberation Sans", Arial, sans-serif' textLength="23.1" lengthAdjust="spacingAndGlyphs" stroke="#fff" stroke-width="0.6">+</text>
<text x="1390.7" y="593.6" font-size="33" font-family='"Liberation Sans", Arial, sans-serif' font-weight="bold" textLength="13.2" lengthAdjust="spacingAndGlyphs">-</text>
<text x="1438.2" y="593.6" font-size="33" font-family='"Liberation Sans", Arial, sans-serif' font-weight="bold" textLength="13.2" lengthAdjust="spacingAndGlyphs">-</text>
<text x="1513.0" y="593.6" font-size="33" font-family='"Liberation Sans", Arial, sans-serif' font-weight="bold" textLength="13.2" lengthAdjust="spacingAndGlyphs">-</text>
<text x="1558.7" y="595.3" font-size="36" font-family='"Liberation Sans", Arial, sans-serif' textLength="23.1" lengthAdjust="spacingAndGlyphs" stroke="#fff" stroke-width="0.6">+</text>
<text x="1606.9" y="595.3" font-size="36" font-family='"Liberation Sans", Arial, sans-serif' textLength="23.1" lengthAdjust="spacingAndGlyphs" stroke="#fff" stroke-width="0.6">+</text>
<text x="1656.3" y="595.3" font-size="36" font-family='"Liberation Sans", Arial, sans-serif' textLength="23.1" lengthAdjust="spacingAndGlyphs" stroke="#fff" stroke-width="0.6">+</text>
<text x="1707.4" y="593.6" font-size="33" font-family='"Liberation Sans", Arial, sans-serif' font-weight="bold" textLength="13.2" lengthAdjust="spacingAndGlyphs">-</text>
<text x="1755.5" y="593.6" font-size="33" font-family='"Liberation Sans", Arial, sans-serif' font-weight="bold" textLength="13.2" lengthAdjust="spacingAndGlyphs">-</text>
<text x="1196.4" y="633.5" font-size="33" font-family='"Liberation Sans", Arial, sans-serif' font-weight="bold" textLength="13.2" lengthAdjust="spacingAndGlyphs">-</text>
<text x="1241.9" y="633.5" font-size="33" font-family='"Liberation Sans", Arial, sans-serif' font-weight="bold" textLength="13.2" lengthAdjust="spacingAndGlyphs">-</text>
<text x="1289.1" y="635.1" font-size="36" font-family='"Liberation Sans", Arial, sans-serif' textLength="23.1" lengthAdjust="spacingAndGlyphs" stroke="#fff" stroke-width="0.6">+</text>
<text x="1339.9" y="633.5" font-size="33" font-family='"Liberation Sans", Arial, sans-serif' font-weight="bold" textLength="13.2" lengthAdjust="spacingAndGlyphs">-</text>
<text x="1389.9" y="635.1" font-size="36" font-family='"Liberation Sans", Arial, sans-serif' textLength="23.1" lengthAdjust="spacingAndGlyphs" stroke="#fff" stroke-width="0.6">+</text>
<text x="1438.2" y="633.5" font-size="33" font-family='"Liberation Sans", Arial, sans-serif' font-weight="bold" textLength="13.2" lengthAdjust="spacingAndGlyphs">-</text>
<text x="1513.0" y="633.5" font-size="33" font-family='"Liberation Sans", Arial, sans-serif' font-weight="bold" textLength="13.2" lengthAdjust="spacingAndGlyphs">-</text>
<text x="1559.8" y="633.5" font-size="33" font-family='"Liberation Sans", Arial, sans-serif' font-weight="bold" textLength="13.2" lengthAdjust="spacingAndGlyphs">-</text>
<text x="1606.9" y="635.1" font-size="36" font-family='"Liberation Sans", Arial, sans-serif' textLength="23.1" lengthAdjust="spacingAndGlyphs" stroke="#fff" stroke-width="0.6">+</text>
<text x="1657.2" y="633.5" font-size="33" font-family='"Liberation Sans", Arial, sans-serif' font-weight="bold" textLength="13.2" lengthAdjust="spacingAndGlyphs">-</text>
<text x="1706.3" y="635.1" font-size="36" font-family='"Liberation Sans", Arial, sans-serif' textLength="23.1" lengthAdjust="spacingAndGlyphs" stroke="#fff" stroke-width="0.6">+</text>
<text x="1755.5" y="633.5" font-size="33" font-family='"Liberation Sans", Arial, sans-serif' font-weight="bold" textLength="13.2" lengthAdjust="spacingAndGlyphs">-</text>
<text x="1196.4" y="673.2" font-size="33" font-family='"Liberation Sans", Arial, sans-serif' font-weight="bold" textLength="13.2" lengthAdjust="spacingAndGlyphs">-</text>
<text x="1241.9" y="673.2" font-size="33" font-family='"Liberation Sans", Arial, sans-serif' font-weight="bold" textLength="13.2" lengthAdjust="spacingAndGlyphs">-</text>
<text x="1289.9" y="673.2" font-size="33" font-family='"Liberation Sans", Arial, sans-serif' font-weight="bold" textLength="13.2" lengthAdjust="spacingAndGlyphs">-</text>
<text x="1339.2" y="674.6" font-size="36" font-family='"Liberation Sans", Arial, sans-serif' textLength="23.1" lengthAdjust="spacingAndGlyphs" stroke="#fff" stroke-width="0.6">+</text>
<text x="1390.7" y="673.2" font-size="33" font-family='"Liberation Sans", Arial, sans-serif' font-weight="bold" textLength="13.2" lengthAdjust="spacingAndGlyphs">-</text>
<text x="1437.4" y="674.6" font-size="36" font-family='"Liberation Sans", Arial, sans-serif' textLength="23.1" lengthAdjust="spacingAndGlyphs" stroke="#fff" stroke-width="0.6">+</text>
<text x="1513.0" y="673.2" font-size="33" font-family='"Liberation Sans", Arial, sans-serif' font-weight="bold" textLength="13.2" lengthAdjust="spacingAndGlyphs">-</text>
<text x="1559.8" y="673.2" font-size="33" font-family='"Liberation Sans", Arial, sans-serif' font-weight="bold" textLength="13.2" lengthAdjust="spacingAndGlyphs">-</text>
<text x="1607.9" y="673.2" font-size="33" font-family='"Liberation Sans", Arial, sans-serif' font-weight="bold" textLength="13.2" lengthAdjust="spacingAndGlyphs">-</text>
<text x="1656.3" y="674.6" font-size="36" font-family='"Liberation Sans", Arial, sans-serif' textLength="23.1" lengthAdjust="spacingAndGlyphs" stroke="#fff" stroke-width="0.6">+</text>
<text x="1707.4" y="673.2" font-size="33" font-family='"Liberation Sans", Arial, sans-serif' font-weight="bold" textLength="13.2" lengthAdjust="spacingAndGlyphs">-</text>
<text x="1754.7" y="674.6" font-size="36" font-family='"Liberation Sans", Arial, sans-serif' textLength="23.1" lengthAdjust="spacingAndGlyphs" stroke="#fff" stroke-width="0.6">+</text>
<text transform="translate(1079.2 338.8) rotate(-90)" x="0" y="0" font-size="30" font-family='"Liberation Serif", "Times New Roman", serif' font-weight="bold" text-anchor="middle" textLength="139.5" lengthAdjust="spacingAndGlyphs" stroke="#111111" stroke-width="0.5">ROS levels</text>
<text x="1038.1" y="38.5" font-size="50" font-family='"Liberation Serif", "Times New Roman", serif' textLength="58.6" lengthAdjust="spacingAndGlyphs" stroke="#111111" stroke-width="0.4">(b)</text>
<rect x="115.3" y="1280.9" width="30.7" height="31.8" fill="url(#p29)" stroke="#111111" stroke-width="5.9" stroke-linejoin="round"/>
<path d="M178.2 1159.7V1151.1M170.8 1151.1H185.8" stroke="#111111" stroke-width="5.6" stroke-linecap="round" fill="none"/>
<rect x="162.9" y="1159.7" width="30.7" height="153.0" fill="url(#p30)" stroke="#111111" stroke-width="5.9" stroke-linejoin="round"/>
<path d="M225.8 1237.2V1228.7M218.3 1228.7H233.3" stroke="#111111" stroke-width="5.6" stroke-linecap="round" fill="none"/>
<rect x="210.4" y="1237.2" width="30.7" height="75.4" fill="url(#p31)" stroke="#111111" stroke-width="5.9" stroke-linejoin="round"/>
<path d="M273.3 1031.9V1021.9M265.8 1021.9H280.8" stroke="#111111" stroke-width="5.6" stroke-linecap="round" fill="none"/>
<rect x="258.0" y="1031.9" width="30.7" height="280.8" fill="url(#p32)" stroke="#111111" stroke-width="5.9" stroke-linejoin="round"/>
<rect x="305.5" y="1273.5" width="30.7" height="39.2" fill="url(#p33)" stroke="#111111" stroke-width="5.9" stroke-linejoin="round"/>
<rect x="353.1" y="1271.9" width="30.7" height="40.8" fill="url(#p34)" stroke="#111111" stroke-width="5.9" stroke-linejoin="round"/>
<path d="M448.2 1261.5V1253.9M440.7 1253.9H455.7" stroke="#111111" stroke-width="5.6" stroke-linecap="round" fill="none"/>
<rect x="432.7" y="1261.5" width="31.0" height="51.1" fill="url(#p35)" stroke="#111111" stroke-width="6.0" stroke-linejoin="round"/>
<path d="M495.7 1068.2V1058.3M488.2 1058.3H503.2" stroke="#111111" stroke-width="5.6" stroke-linecap="round" fill="none"/>
<rect x="480.2" y="1068.2" width="31.0" height="244.4" fill="url(#p36)" stroke="#111111" stroke-width="6.0" stroke-linejoin="round"/>
<path d="M543.2 1195.3V1189.2M535.7 1189.2H550.7" stroke="#111111" stroke-width="5.6" stroke-linecap="round" fill="none"/>
<rect x="527.7" y="1195.3" width="31.0" height="117.3" fill="url(#p37)" stroke="#111111" stroke-width="6.0" stroke-linejoin="round"/>
<path d="M590.7 961.6V948.4M583.2 948.4H598.2" stroke="#111111" stroke-width="5.6" stroke-linecap="round" fill="none"/>
<rect x="575.2" y="961.6" width="31.0" height="351.0" fill="url(#p38)" stroke="#111111" stroke-width="6.0" stroke-linejoin="round"/>
<path d="M638.2 1263.1V1255.5M630.7 1255.5H645.7" stroke="#111111" stroke-width="5.6" stroke-linecap="round" fill="none"/>
<rect x="622.7" y="1263.1" width="31.0" height="49.5" fill="url(#p39)" stroke="#111111" stroke-width="6.0" stroke-linejoin="round"/>
<path d="M685.7 1254.1V1246.8M678.2 1246.8H693.2" stroke="#111111" stroke-width="5.6" stroke-linecap="round" fill="none"/>
<rect x="670.2" y="1254.1" width="31.0" height="58.5" fill="url(#p40)" stroke="#111111" stroke-width="6.0" stroke-linejoin="round"/>
<path d="M91.4 891.2V1314.6H725.1" stroke="#111111" stroke-width="4.4" fill="none" stroke-linecap="round"/>
<path d="M79.7 891.2H91.4M79.7 975.9H91.4M79.7 1060.6H91.4M79.7 1145.2H91.4M79.7 1229.9H91.4M79.7 1314.6H91.4" stroke="#111111" stroke-width="4.4" fill="none" stroke-linecap="round"/>
<path d="M130.7 1314.6V1328.2M178.2 1314.6V1328.2M225.8 1314.6V1328.2M273.3 1314.6V1328.2M320.9 1314.6V1328.2M368.4 1314.6V1328.2M448.2 1314.6V1328.2M495.7 1314.6V1328.2M543.2 1314.6V1328.2M590.7 1314.6V1328.2M638.2 1314.6V1328.2M685.7 1314.6V1328.2" stroke="#111111" stroke-width="4.4" fill="none" stroke-linecap="round"/>
<text x="75.6" y="901.1" font-size="30" font-family='"Liberation Serif", "Times New Roman", serif' font-weight="bold" text-anchor="end" stroke="#111111" stroke-width="0.5">50</text>
<text x="75.6" y="985.8" font-size="30" font-family='"Liberation Serif", "Times New Roman", serif' font-weight="bold" text-anchor="end" stroke="#111111" stroke-width="0.5">40</text>
<text x="75.6" y="1070.5" font-size="30" font-family='"Liberation Serif", "Times New Roman", serif' font-weight="bold" text-anchor="end" stroke="#111111" stroke-width="0.5">30</text>
<text x="75.6" y="1155.1" font-size="30" font-family='"Liberation Serif", "Times New Roman", serif' font-weight="bold" text-anchor="end" stroke="#111111" stroke-width="0.5">20</text>
<text x="75.6" y="1239.8" font-size="30" font-family='"Liberation Serif", "Times New Roman", serif' font-weight="bold" text-anchor="end" stroke="#111111" stroke-width="0.5">10</text>
<text x="75.6" y="1324.5" font-size="30" font-family='"Liberation Serif", "Times New Roman", serif' font-weight="bold" text-anchor="end" stroke="#111111" stroke-width="0.5">0</text>
<path d="M180.2 985.7V974.4H273.9V985.7" stroke="#111111" stroke-width="5.8" stroke-linecap="round" stroke-linejoin="round" fill="none"/>
<text x="226.6" y="956.9" font-size="28.5" font-family='"Liberation Serif", "Times New Roman", serif' text-anchor="middle" stroke="#111111" stroke-width="0.3">**</text>
<path d="M180.2 1121.5V1110.2H230.9V1121.5" stroke="#111111" stroke-width="5.8" stroke-linecap="round" stroke-linejoin="round" fill="none"/>
<text x="204.8" y="1105.8" font-size="28.5" font-family='"Liberation Serif", "Times New Roman", serif' text-anchor="middle" stroke="#111111" stroke-width="0.3">**</text>
<path d="M497.6 920.1V908.8H590.7V920.1" stroke="#111111" stroke-width="5.8" stroke-linecap="round" stroke-linejoin="round" fill="none"/>
<text x="544.2" y="902.5" font-size="28.5" font-family='"Liberation Serif", "Times New Roman", serif' text-anchor="middle" stroke="#111111" stroke-width="0.3">**</text>
<path d="M497.6 1036.5V1025.5H548.3V1036.5" stroke="#111111" stroke-width="5.8" stroke-linecap="round" stroke-linejoin="round" fill="none"/>
<text x="523.1" y="1018.9" font-size="28.5" font-family='"Liberation Serif", "Times New Roman", serif' text-anchor="middle" stroke="#111111" stroke-width="0.3">**</text>
<rect x="772.6" y="911.1" width="38.8" height="14.1" fill="#fff"/>
<path d="M771.8 928.2L791.9 908.1M792.3 928.2L812.4 908.1M812.8 928.2L832.9 908.1" stroke="#111111" stroke-width="3.4" clip-path="url(#k41)" fill="none"/>
<rect x="769.8" y="908.3" width="44.4" height="19.7" fill="none" stroke="#111111" stroke-width="5.6" stroke-linejoin="round"/>
<text x="840.0" y="930.0" font-size="30" font-family='"Liberation Serif", "Times New Roman", serif' font-weight="bold" textLength="81.8" lengthAdjust="spacingAndGlyphs" stroke="#111111" stroke-width="0.5">ACHN</text>
<rect x="772.6" y="960.2" width="38.8" height="13.8" fill="url(#c42)"/>
<rect x="769.8" y="957.4" width="44.4" height="19.4" fill="none" stroke="#111111" stroke-width="5.6" stroke-linejoin="round"/>
<text x="840.0" y="978.5" font-size="30" font-family='"Liberation Serif", "Times New Roman", serif' font-weight="bold" textLength="64.9" lengthAdjust="spacingAndGlyphs" stroke="#111111" stroke-width="0.5">A498</text>
<text x="0.8" y="1372.3" font-size="30" font-family='"Liberation Serif", "Times New Roman", serif' font-weight="bold" textLength="65.5" lengthAdjust="spacingAndGlyphs" stroke="#111111" stroke-width="0.5">JS-K</text>
<text x="1.9" y="1407.6" font-size="30" font-family='"Liberation Serif", "Times New Roman", serif' font-weight="bold" textLength="61.5" lengthAdjust="spacingAndGlyphs" stroke="#111111" stroke-width="0.5">NAC</text>
<text x="1.1" y="1442.9" font-size="30" font-family='"Liberation Serif", "Times New Roman", serif' font-weight="bold" textLength="77.4" lengthAdjust="spacingAndGlyphs" stroke="#111111" stroke-width="0.5">GSSG</text>
<text x="125.7" y="1358.8" font-size="33" font-family='"Liberation Sans", Arial, sans-serif' font-weight="bold" textLength="13.2" lengthAdjust="spacingAndGlyphs">-</text>
<text x="167.2" y="1360.6" font-size="36" font-family='"Liberation Sans", Arial, sans-serif' textLength="23.1" lengthAdjust="spacingAndGlyphs" stroke="#fff" stroke-width="0.6">+</text>
<text x="215.2" y="1360.6" font-size="36" font-family='"Liberation Sans", Arial, sans-serif' textLength="23.1" lengthAdjust="spacingAndGlyphs" stroke="#fff" stroke-width="0.6">+</text>
<text x="261.4" y="1360.6" font-size="36" font-family='"Liberation Sans", Arial, sans-serif' textLength="23.1" lengthAdjust="spacingAndGlyphs" stroke="#fff" stroke-width="0.6">+</text>
<text x="314.7" y="1358.8" font-size="33" font-family='"Liberation Sans", Arial, sans-serif' font-weight="bold" textLength="13.2" lengthAdjust="spacingAndGlyphs">-</text>
<text x="364.6" y="1358.8" font-size="33" font-family='"Liberation Sans", Arial, sans-serif' font-weight="bold" textLength="13.2" lengthAdjust="spacingAndGlyphs">-</text>
<text x="442.9" y="1358.8" font-size="33" font-family='"Liberation Sans", Arial, sans-serif' font-weight="bold" textLength="13.2" lengthAdjust="spacingAndGlyphs">-</text>
<text x="484.3" y="1360.6" font-size="36" font-family='"Liberation Sans", Arial, sans-serif' textLength="23.1" lengthAdjust="spacingAndGlyphs" stroke="#fff" stroke-width="0.6">+</text>
<text x="532.3" y="1360.6" font-size="36" font-family='"Liberation Sans", Arial, sans-serif' textLength="23.1" lengthAdjust="spacingAndGlyphs" stroke="#fff" stroke-width="0.6">+</text>
<text x="580.5" y="1360.6" font-size="36" font-family='"Liberation Sans", Arial, sans-serif' textLength="23.1" lengthAdjust="spacingAndGlyphs" stroke="#fff" stroke-width="0.6">+</text>
<text x="633.6" y="1358.8" font-size="33" font-family='"Liberation Sans", Arial, sans-serif' font-weight="bold" textLength="13.2" lengthAdjust="spacingAndGlyphs">-</text>
<text x="681.7" y="1358.8" font-size="33" font-family='"Liberation Sans", Arial, sans-serif' font-weight="bold" textLength="13.2" lengthAdjust="spacingAndGlyphs">-</text>
<text x="125.7" y="1398.7" font-size="33" font-family='"Liberation Sans", Arial, sans-serif' font-weight="bold" textLength="13.2" lengthAdjust="spacingAndGlyphs">-</text>
<text x="168.2" y="1398.7" font-size="33" font-family='"Liberation Sans", Arial, sans-serif' font-weight="bold" textLength="13.2" lengthAdjust="spacingAndGlyphs">-</text>
<text x="215.2" y="1400.3" font-size="36" font-family='"Liberation Sans", Arial, sans-serif' textLength="23.1" lengthAdjust="spacingAndGlyphs" stroke="#fff" stroke-width="0.6">+</text>
<text x="262.5" y="1398.7" font-size="33" font-family='"Liberation Sans", Arial, sans-serif' font-weight="bold" textLength="13.2" lengthAdjust="spacingAndGlyphs">-</text>
<text x="313.4" y="1400.3" font-size="36" font-family='"Liberation Sans", Arial, sans-serif' textLength="23.1" lengthAdjust="spacingAndGlyphs" stroke="#fff" stroke-width="0.6">+</text>
<text x="364.6" y="1398.7" font-size="33" font-family='"Liberation Sans", Arial, sans-serif' font-weight="bold" textLength="13.2" lengthAdjust="spacingAndGlyphs">-</text>
<text x="442.9" y="1398.7" font-size="33" font-family='"Liberation Sans", Arial, sans-serif' font-weight="bold" textLength="13.2" lengthAdjust="spacingAndGlyphs">-</text>
<text x="485.4" y="1398.7" font-size="33" font-family='"Liberation Sans", Arial, sans-serif' font-weight="bold" textLength="13.2" lengthAdjust="spacingAndGlyphs">-</text>
<text x="532.3" y="1400.3" font-size="36" font-family='"Liberation Sans", Arial, sans-serif' textLength="23.1" lengthAdjust="spacingAndGlyphs" stroke="#fff" stroke-width="0.6">+</text>
<text x="581.6" y="1398.7" font-size="33" font-family='"Liberation Sans", Arial, sans-serif' font-weight="bold" textLength="13.2" lengthAdjust="spacingAndGlyphs">-</text>
<text x="632.6" y="1400.3" font-size="36" font-family='"Liberation Sans", Arial, sans-serif' textLength="23.1" lengthAdjust="spacingAndGlyphs" stroke="#fff" stroke-width="0.6">+</text>
<text x="681.7" y="1398.7" font-size="33" font-family='"Liberation Sans", Arial, sans-serif' font-weight="bold" textLength="13.2" lengthAdjust="spacingAndGlyphs">-</text>
<text x="125.7" y="1438.5" font-size="33" font-family='"Liberation Sans", Arial, sans-serif' font-weight="bold" textLength="13.2" lengthAdjust="spacingAndGlyphs">-</text>
<text x="168.2" y="1438.5" font-size="33" font-family='"Liberation Sans", Arial, sans-serif' font-weight="bold" textLength="13.2" lengthAdjust="spacingAndGlyphs">-</text>
<text x="216.3" y="1438.5" font-size="33" font-family='"Liberation Sans", Arial, sans-serif' font-weight="bold" textLength="13.2" lengthAdjust="spacingAndGlyphs">-</text>
<text x="261.4" y="1440.0" font-size="36" font-family='"Liberation Sans", Arial, sans-serif' textLength="23.1" lengthAdjust="spacingAndGlyphs" stroke="#fff" stroke-width="0.6">+</text>
<text x="314.4" y="1438.5" font-size="33" font-family='"Liberation Sans", Arial, sans-serif' font-weight="bold" textLength="13.2" lengthAdjust="spacingAndGlyphs">-</text>
<text x="363.8" y="1440.0" font-size="36" font-family='"Liberation Sans", Arial, sans-serif' textLength="23.1" lengthAdjust="spacingAndGlyphs" stroke="#fff" stroke-width="0.6">+</text>
<text x="442.9" y="1438.5" font-size="33" font-family='"Liberation Sans", Arial, sans-serif' font-weight="bold" textLength="13.2" lengthAdjust="spacingAndGlyphs">-</text>
<text x="485.4" y="1438.5" font-size="33" font-family='"Liberation Sans", Arial, sans-serif' font-weight="bold" textLength="13.2" lengthAdjust="spacingAndGlyphs">-</text>
<text x="533.4" y="1438.5" font-size="33" font-family='"Liberation Sans", Arial, sans-serif' font-weight="bold" textLength="13.2" lengthAdjust="spacingAndGlyphs">-</text>
<text x="580.5" y="1440.0" font-size="36" font-family='"Liberation Sans", Arial, sans-serif' textLength="23.1" lengthAdjust="spacingAndGlyphs" stroke="#fff" stroke-width="0.6">+</text>
<text x="633.6" y="1438.5" font-size="33" font-family='"Liberation Sans", Arial, sans-serif' font-weight="bold" textLength="13.2" lengthAdjust="spacingAndGlyphs">-</text>
<text x="680.7" y="1440.0" font-size="36" font-family='"Liberation Sans", Arial, sans-serif' textLength="23.1" lengthAdjust="spacingAndGlyphs" stroke="#fff" stroke-width="0.6">+</text>
<text transform="translate(24.6 1105.0) rotate(-90)" x="0" y="0" font-size="30" font-family='"Liberation Serif", "Times New Roman", serif' font-weight="bold" text-anchor="middle" textLength="237.0" lengthAdjust="spacingAndGlyphs" stroke="#111111" stroke-width="0.5">Apoptosis rate(%)</text>
<text x="3.2" y="820.4" font-size="50" font-family='"Liberation Serif", "Times New Roman", serif' textLength="55.7" lengthAdjust="spacingAndGlyphs" stroke="#111111" stroke-width="0.4">(c)</text>
<path d="M1205.8 1245.4V1241.6M1198.3 1241.6H1213.3" stroke="#111111" stroke-width="5.6" stroke-linecap="round" fill="none"/>
<rect x="1190.5" y="1245.4" width="30.7" height="68.4" fill="url(#p43)" stroke="#111111" stroke-width="5.9" stroke-linejoin="round"/>
<path d="M1253.5 1090.4V1085.0M1246.0 1085.0H1261.0" stroke="#111111" stroke-width="5.6" stroke-linecap="round" fill="none"/>
<rect x="1238.1" y="1090.4" width="30.7" height="223.4" fill="url(#p44)" stroke="#111111" stroke-width="5.9" stroke-linejoin="round"/>
<path d="M1301.1 1189.5V1185.5M1293.6 1185.5H1308.6" stroke="#111111" stroke-width="5.6" stroke-linecap="round" fill="none"/>
<rect x="1285.8" y="1189.5" width="30.7" height="124.2" fill="url(#p45)" stroke="#111111" stroke-width="5.9" stroke-linejoin="round"/>
<path d="M1348.8 971.0V964.8M1341.2 964.8H1356.2" stroke="#111111" stroke-width="5.6" stroke-linecap="round" fill="none"/>
<rect x="1333.4" y="971.0" width="30.7" height="342.8" fill="url(#p46)" stroke="#111111" stroke-width="5.9" stroke-linejoin="round"/>
<path d="M1396.4 1238.5V1234.8M1388.9 1234.8H1403.9" stroke="#111111" stroke-width="5.6" stroke-linecap="round" fill="none"/>
<rect x="1381.0" y="1238.5" width="30.7" height="75.2" fill="url(#p47)" stroke="#111111" stroke-width="5.9" stroke-linejoin="round"/>
<path d="M1444.0 1231.8V1228.2M1436.5 1228.2H1451.5" stroke="#111111" stroke-width="5.6" stroke-linecap="round" fill="none"/>
<rect x="1428.7" y="1231.8" width="30.7" height="82.0" fill="url(#p48)" stroke="#111111" stroke-width="5.9" stroke-linejoin="round"/>
<path d="M1523.0 1245.3V1241.6M1515.5 1241.6H1530.5" stroke="#111111" stroke-width="5.6" stroke-linecap="round" fill="none"/>
<rect x="1507.5" y="1245.3" width="31.0" height="68.4" fill="url(#p49)" stroke="#111111" stroke-width="6.0" stroke-linejoin="round"/>
<path d="M1570.6 1119.0V1114.3M1563.1 1114.3H1578.1" stroke="#111111" stroke-width="5.6" stroke-linecap="round" fill="none"/>
<rect x="1555.1" y="1119.0" width="31.0" height="194.7" fill="url(#p50)" stroke="#111111" stroke-width="6.0" stroke-linejoin="round"/>
<path d="M1618.2 1203.0V1200.6M1610.7 1200.6H1625.7" stroke="#111111" stroke-width="5.6" stroke-linecap="round" fill="none"/>
<rect x="1602.7" y="1203.0" width="31.0" height="110.7" fill="url(#p51)" stroke="#111111" stroke-width="6.0" stroke-linejoin="round"/>
<path d="M1665.8 949.6V943.6M1658.3 943.6H1673.3" stroke="#111111" stroke-width="5.6" stroke-linecap="round" fill="none"/>
<rect x="1650.3" y="949.6" width="31.0" height="364.1" fill="url(#p52)" stroke="#111111" stroke-width="6.0" stroke-linejoin="round"/>
<path d="M1713.4 1230.8V1228.0M1705.9 1228.0H1720.9" stroke="#111111" stroke-width="5.6" stroke-linecap="round" fill="none"/>
<rect x="1697.9" y="1230.8" width="31.0" height="82.9" fill="url(#p53)" stroke="#111111" stroke-width="6.0" stroke-linejoin="round"/>
<path d="M1761.0 1237.9V1235.1M1753.5 1235.1H1768.5" stroke="#111111" stroke-width="5.6" stroke-linecap="round" fill="none"/>
<rect x="1745.5" y="1237.9" width="31.0" height="75.8" fill="url(#p54)" stroke="#111111" stroke-width="6.0" stroke-linejoin="round"/>
<path d="M1167.5 893.2V1315.7H1800.0" stroke="#111111" stroke-width="4.4" fill="none" stroke-linecap="round"/>
<path d="M1155.0 893.2H1167.5M1155.0 1034.1H1167.5M1155.0 1174.9H1167.5M1155.0 1315.7H1167.5" stroke="#111111" stroke-width="4.4" fill="none" stroke-linecap="round"/>
<path d="M1205.8 1315.7V1328.5M1253.5 1315.7V1328.5M1301.1 1315.7V1328.5M1348.8 1315.7V1328.5M1396.4 1315.7V1328.5M1444.0 1315.7V1328.5M1523.0 1315.7V1328.5M1570.6 1315.7V1328.5M1618.2 1315.7V1328.5M1665.8 1315.7V1328.5M1713.4 1315.7V1328.5M1761.0 1315.7V1328.5" stroke="#111111" stroke-width="4.4" fill="none" stroke-linecap="round"/>
<text x="1150.6" y="901.9" font-size="30" font-family='"Liberation Serif", "Times New Roman", serif' font-weight="bold" text-anchor="end" stroke="#111111" stroke-width="0.5">6</text>
<text x="1150.6" y="1042.7" font-size="30" font-family='"Liberation Serif", "Times New Roman", serif' font-weight="bold" text-anchor="end" stroke="#111111" stroke-width="0.5">4</text>
<text x="1150.6" y="1183.5" font-size="30" font-family='"Liberation Serif", "Times New Roman", serif' font-weight="bold" text-anchor="end" stroke="#111111" stroke-width="0.5">2</text>
<text x="1150.6" y="1324.3" font-size="30" font-family='"Liberation Serif", "Times New Roman", serif' font-weight="bold" text-anchor="end" stroke="#111111" stroke-width="0.5">0</text>
<path d="M1255.4 932.1V920.4H1349.1V932.1" stroke="#111111" stroke-width="5.8" stroke-linecap="round" stroke-linejoin="round" fill="none"/>
<text x="1301.6" y="906.2" font-size="28.5" font-family='"Liberation Serif", "Times New Roman", serif' text-anchor="middle" stroke="#111111" stroke-width="0.3">**</text>
<path d="M1255.4 1067.1V1056.7H1306.1V1067.1" stroke="#111111" stroke-width="5.8" stroke-linecap="round" stroke-linejoin="round" fill="none"/>
<text x="1283.4" y="1048.4" font-size="28.5" font-family='"Liberation Serif", "Times New Roman", serif' text-anchor="middle" stroke="#111111" stroke-width="0.3">*</text>
<path d="M1572.8 921.1V910.7H1665.2V921.1" stroke="#111111" stroke-width="5.8" stroke-linecap="round" stroke-linejoin="round" fill="none"/>
<text x="1619.0" y="900.1" font-size="28.5" font-family='"Liberation Serif", "Times New Roman", serif' text-anchor="middle" stroke="#111111" stroke-width="0.3">**</text>
<path d="M1572.8 1092.4V1082.0H1622.5V1092.4" stroke="#111111" stroke-width="5.8" stroke-linecap="round" stroke-linejoin="round" fill="none"/>
<text x="1597.2" y="1073.7" font-size="28.5" font-family='"Liberation Serif", "Times New Roman", serif' text-anchor="middle" stroke="#111111" stroke-width="0.3">**</text>
<rect x="1847.0" y="912.6" width="39.8" height="14.1" fill="#fff"/>
<path d="M1846.2 929.7L1866.3 909.6M1866.7 929.7L1886.8 909.6M1887.2 929.7L1907.3 909.6" stroke="#111111" stroke-width="3.4" clip-path="url(#k55)" fill="none"/>
<rect x="1844.2" y="909.8" width="45.4" height="19.7" fill="none" stroke="#111111" stroke-width="5.6" stroke-linejoin="round"/>
<text x="1914.8" y="931.2" font-size="30" font-family='"Liberation Serif", "Times New Roman", serif' font-weight="bold" textLength="81.7" lengthAdjust="spacingAndGlyphs" stroke="#111111" stroke-width="0.5">ACHN</text>
<rect x="1847.0" y="961.5" width="39.8" height="13.6" fill="url(#c56)"/>
<rect x="1844.2" y="958.7" width="45.4" height="19.2" fill="none" stroke="#111111" stroke-width="5.6" stroke-linejoin="round"/>
<text x="1914.8" y="979.6" font-size="30" font-family='"Liberation Serif", "Times New Roman", serif' font-weight="bold" textLength="64.8" lengthAdjust="spacingAndGlyphs" stroke="#111111" stroke-width="0.5">A498</text>
<text x="1085.1" y="1380.2" font-size="30" font-family='"Liberation Serif", "Times New Roman", serif' font-weight="bold" textLength="65.5" lengthAdjust="spacingAndGlyphs" stroke="#111111" stroke-width="0.5">JS-K</text>
<text x="1086.8" y="1415.5" font-size="30" font-family='"Liberation Serif", "Times New Roman", serif' font-weight="bold" textLength="61.2" lengthAdjust="spacingAndGlyphs" stroke="#111111" stroke-width="0.5">NAC</text>
<text x="1086.0" y="1451.5" font-size="30" font-family='"Liberation Serif", "Times New Roman", serif' font-weight="bold" textLength="76.0" lengthAdjust="spacingAndGlyphs" stroke="#111111" stroke-width="0.5">GSSG</text>
<text x="1200.4" y="1367.0" font-size="33" font-family='"Liberation Sans", Arial, sans-serif' font-weight="bold" textLength="13.2" lengthAdjust="spacingAndGlyphs">-</text>
<text x="1241.1" y="1368.3" font-size="36" font-family='"Liberation Sans", Arial, sans-serif' textLength="23.1" lengthAdjust="spacingAndGlyphs" stroke="#fff" stroke-width="0.6">+</text>
<text x="1291.1" y="1368.3" font-size="36" font-family='"Liberation Sans", Arial, sans-serif' textLength="23.1" lengthAdjust="spacingAndGlyphs" stroke="#fff" stroke-width="0.6">+</text>
<text x="1337.2" y="1368.3" font-size="36" font-family='"Liberation Sans", Arial, sans-serif' textLength="23.1" lengthAdjust="spacingAndGlyphs" stroke="#fff" stroke-width="0.6">+</text>
<text x="1390.6" y="1367.0" font-size="33" font-family='"Liberation Sans", Arial, sans-serif' font-weight="bold" textLength="13.2" lengthAdjust="spacingAndGlyphs">-</text>
<text x="1438.4" y="1367.0" font-size="33" font-family='"Liberation Sans", Arial, sans-serif' font-weight="bold" textLength="13.2" lengthAdjust="spacingAndGlyphs">-</text>
<text x="1517.3" y="1367.0" font-size="33" font-family='"Liberation Sans", Arial, sans-serif' font-weight="bold" textLength="13.2" lengthAdjust="spacingAndGlyphs">-</text>
<text x="1558.8" y="1368.3" font-size="36" font-family='"Liberation Sans", Arial, sans-serif' textLength="23.1" lengthAdjust="spacingAndGlyphs" stroke="#fff" stroke-width="0.6">+</text>
<text x="1606.8" y="1368.3" font-size="36" font-family='"Liberation Sans", Arial, sans-serif' textLength="23.1" lengthAdjust="spacingAndGlyphs" stroke="#fff" stroke-width="0.6">+</text>
<text x="1654.2" y="1368.3" font-size="36" font-family='"Liberation Sans", Arial, sans-serif' textLength="23.1" lengthAdjust="spacingAndGlyphs" stroke="#fff" stroke-width="0.6">+</text>
<text x="1707.7" y="1367.0" font-size="33" font-family='"Liberation Sans", Arial, sans-serif' font-weight="bold" textLength="13.2" lengthAdjust="spacingAndGlyphs">-</text>
<text x="1755.6" y="1367.0" font-size="33" font-family='"Liberation Sans", Arial, sans-serif' font-weight="bold" textLength="13.2" lengthAdjust="spacingAndGlyphs">-</text>
<text x="1200.4" y="1406.6" font-size="33" font-family='"Liberation Sans", Arial, sans-serif' font-weight="bold" textLength="13.2" lengthAdjust="spacingAndGlyphs">-</text>
<text x="1242.2" y="1406.6" font-size="33" font-family='"Liberation Sans", Arial, sans-serif' font-weight="bold" textLength="13.2" lengthAdjust="spacingAndGlyphs">-</text>
<text x="1291.1" y="1408.0" font-size="36" font-family='"Liberation Sans", Arial, sans-serif' textLength="23.1" lengthAdjust="spacingAndGlyphs" stroke="#fff" stroke-width="0.6">+</text>
<text x="1338.1" y="1406.6" font-size="33" font-family='"Liberation Sans", Arial, sans-serif' font-weight="bold" textLength="13.2" lengthAdjust="spacingAndGlyphs">-</text>
<text x="1389.5" y="1408.0" font-size="36" font-family='"Liberation Sans", Arial, sans-serif' textLength="23.1" lengthAdjust="spacingAndGlyphs" stroke="#fff" stroke-width="0.6">+</text>
<text x="1438.4" y="1406.6" font-size="33" font-family='"Liberation Sans", Arial, sans-serif' font-weight="bold" textLength="13.2" lengthAdjust="spacingAndGlyphs">-</text>
<text x="1517.3" y="1406.6" font-size="33" font-family='"Liberation Sans", Arial, sans-serif' font-weight="bold" textLength="13.2" lengthAdjust="spacingAndGlyphs">-</text>
<text x="1559.8" y="1406.6" font-size="33" font-family='"Liberation Sans", Arial, sans-serif' font-weight="bold" textLength="13.2" lengthAdjust="spacingAndGlyphs">-</text>
<text x="1606.8" y="1408.0" font-size="36" font-family='"Liberation Sans", Arial, sans-serif' textLength="23.1" lengthAdjust="spacingAndGlyphs" stroke="#fff" stroke-width="0.6">+</text>
<text x="1655.3" y="1406.6" font-size="33" font-family='"Liberation Sans", Arial, sans-serif' font-weight="bold" textLength="13.2" lengthAdjust="spacingAndGlyphs">-</text>
<text x="1706.3" y="1408.0" font-size="36" font-family='"Liberation Sans", Arial, sans-serif' textLength="23.1" lengthAdjust="spacingAndGlyphs" stroke="#fff" stroke-width="0.6">+</text>
<text x="1755.6" y="1406.6" font-size="33" font-family='"Liberation Sans", Arial, sans-serif' font-weight="bold" textLength="13.2" lengthAdjust="spacingAndGlyphs">-</text>
<text x="1200.4" y="1446.7" font-size="33" font-family='"Liberation Sans", Arial, sans-serif' font-weight="bold" textLength="13.2" lengthAdjust="spacingAndGlyphs">-</text>
<text x="1242.2" y="1446.7" font-size="33" font-family='"Liberation Sans", Arial, sans-serif' font-weight="bold" textLength="13.2" lengthAdjust="spacingAndGlyphs">-</text>
<text x="1292.0" y="1446.7" font-size="33" font-family='"Liberation Sans", Arial, sans-serif' font-weight="bold" textLength="13.2" lengthAdjust="spacingAndGlyphs">-</text>
<text x="1337.2" y="1447.8" font-size="36" font-family='"Liberation Sans", Arial, sans-serif' textLength="23.1" lengthAdjust="spacingAndGlyphs" stroke="#fff" stroke-width="0.6">+</text>
<text x="1390.6" y="1446.7" font-size="33" font-family='"Liberation Sans", Arial, sans-serif' font-weight="bold" textLength="13.2" lengthAdjust="spacingAndGlyphs">-</text>
<text x="1437.4" y="1447.8" font-size="36" font-family='"Liberation Sans", Arial, sans-serif' textLength="23.1" lengthAdjust="spacingAndGlyphs" stroke="#fff" stroke-width="0.6">+</text>
<text x="1517.3" y="1446.7" font-size="33" font-family='"Liberation Sans", Arial, sans-serif' font-weight="bold" textLength="13.2" lengthAdjust="spacingAndGlyphs">-</text>
<text x="1559.8" y="1446.7" font-size="33" font-family='"Liberation Sans", Arial, sans-serif' font-weight="bold" textLength="13.2" lengthAdjust="spacingAndGlyphs">-</text>
<text x="1608.0" y="1446.7" font-size="33" font-family='"Liberation Sans", Arial, sans-serif' font-weight="bold" textLength="13.2" lengthAdjust="spacingAndGlyphs">-</text>
<text x="1654.2" y="1447.8" font-size="36" font-family='"Liberation Sans", Arial, sans-serif' textLength="23.1" lengthAdjust="spacingAndGlyphs" stroke="#fff" stroke-width="0.6">+</text>
<text x="1707.7" y="1446.7" font-size="33" font-family='"Liberation Sans", Arial, sans-serif' font-weight="bold" textLength="13.2" lengthAdjust="spacingAndGlyphs">-</text>
<text x="1754.5" y="1447.8" font-size="36" font-family='"Liberation Sans", Arial, sans-serif' textLength="23.1" lengthAdjust="spacingAndGlyphs" stroke="#fff" stroke-width="0.6">+</text>
<text transform="translate(1078.2 1230.3) rotate(-90)" x="-1.39" y="0" font-size="30" font-family='"Liberation Serif", "Times New Roman", serif' font-weight="bold" textLength="101.6" lengthAdjust="spacingAndGlyphs" stroke="#111111" stroke-width="0.5">Caspase</text>
<text transform="translate(1078.2 1119.8) rotate(-90)" x="-1.12" y="0" font-size="30" font-family='"Liberation Serif", "Times New Roman", serif' font-weight="bold" textLength="37.6" lengthAdjust="spacingAndGlyphs" stroke="#111111" stroke-width="0.5">3/7</text>
<text transform="translate(1078.2 1073.0) rotate(-90)" x="-0.95" y="0" font-size="30" font-family='"Liberation Serif", "Times New Roman", serif' font-weight="bold" textLength="93.6" lengthAdjust="spacingAndGlyphs" stroke="#111111" stroke-width="0.5">activity</text>
<text x="1038.1" y="820.4" font-size="50" font-family='"Liberation Serif", "Times New Roman", serif' textLength="58.6" lengthAdjust="spacingAndGlyphs" stroke="#111111" stroke-width="0.4">(d)</text>
</svg>
</body></html>
